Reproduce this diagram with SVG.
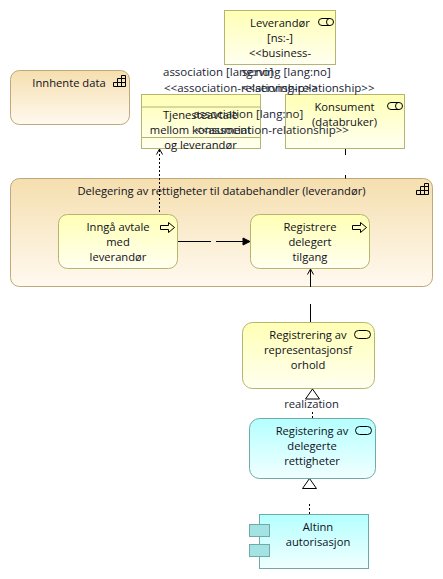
<svg xmlns="http://www.w3.org/2000/svg" width="443" height="579" viewBox="0 0 443 579">
<defs>
<linearGradient id="gy" x1="0" y1="0" x2="0" y2="1"><stop offset="0" stop-color="#ffffb5"/><stop offset="1" stop-color="#fffff0"/></linearGradient>
<linearGradient id="go" x1="0" y1="0" x2="0" y2="1"><stop offset="0" stop-color="#f5dfaf"/><stop offset="1" stop-color="#fff9ef"/></linearGradient>
<linearGradient id="gc" x1="0" y1="0" x2="0" y2="1"><stop offset="0" stop-color="#b5ffff"/><stop offset="1" stop-color="#f0ffff"/></linearGradient>
</defs>
<style>
text{font-family:"Open Sans","Noto Sans","Liberation Sans",sans-serif;font-size:11.200px;fill:#10101a;text-anchor:middle}
text.lbl{fill:#1a2433;text-anchor:start;font-size:11.500px}
text.ctr{fill:#1a2433}
.y{fill:url(#gy);stroke:#b5b56e}
.o{fill:url(#go);stroke:#bfa97a}
.c{fill:url(#gc);stroke:#6fa9a9}
.i{fill:none;stroke:#000}
.conn{fill:none;stroke:#000}
.dot{stroke-dasharray:2 2}
.tri{fill:#fff;stroke:#000}
.comp{fill:#a3e3e3;stroke:#6fa9a9}
.div{fill:none;stroke:#b5b56e}
</style>
<g id="innhente-data">
<rect class="o" x="10.500" y="70.500" width="119" height="54" rx="9"/>
<text x="69" y="87">Innhente data</text>
<path class="i" d="M113.500 86.500V82.500H117.500V78.500H121.500V75.500H125.500V86.500ZM117.500 82.500H125.500M121.500 78.500H125.500M117.500 82.500V86.500M121.500 78.500V86.500"/>
</g>
<g id="delegering">
<rect class="o" x="10.500" y="178.500" width="422" height="108" rx="9"/>
<text x="221.500" y="195">Delegering av rettigheter til databehandler (leverandør)</text>
<path class="i" d="M416.500 194.500V190.500H420.500V186.500H424.500V183.500H428.500V194.500ZM420.500 190.500H428.500M424.500 186.500H428.500M420.500 190.500V194.500M424.500 186.500V194.500"/>
</g>
<g id="connectors">
<path class="conn dot" d="M159.500 150V214"/>
<path class="conn" d="M156.500 154.500L159.500 149L162.500 154.500"/>
<path class="conn" d="M345.500 148.500V155M345.500 175V178.500"/>
<path class="conn" d="M177 241.500H211M216 241.500H244"/>
<path d="M250 241.500L243 238V245Z" fill="#000" stroke="#000"/>
<path class="conn" d="M310.500 269V287M310.500 304V322M307.500 274.500L310.500 269L313.500 274.500"/>
<path class="tri" d="M312.500 389L305.500 399H319.500Z"/>
<path class="conn dot" d="M312.500 412V418"/>
<path class="tri" d="M309.500 478.500L302.500 488.500H316.500Z"/>
<path class="conn dot" d="M309.500 504V514"/>
</g>
<g id="leverandor">
<rect class="y" x="224.500" y="10.500" width="111" height="54"/>
<text x="280" y="27">Leverandør</text><text x="280" y="42">[ns:-]</text><text x="280" y="57">&lt;&lt;business-</text>
<rect class="i" x="318.500" y="18.500" width="15" height="7" rx="3.500"/><path class="i" d="M329.500 18.500a3 3.500 0 0 0 0 7"/>
</g>
<g id="tjenesteavtale">
<rect class="y" x="141.500" y="94.500" width="119" height="54"/>
<path class="div" d="M141.500 107H260.500M141.500 137.500H260.500"/>
<text x="200.500" y="119">Tjenesteavtale</text><text x="200.500" y="134">mellom konsument</text><text x="200.500" y="149">og leverandør</text>
</g>
<g id="konsument">
<rect class="y" x="285.500" y="94.500" width="119" height="54"/>
<text x="344.500" y="111">Konsument</text><text x="344.500" y="126">(databruker)</text>
<rect class="i" x="387.500" y="102.500" width="15" height="7" rx="3.500"/><path class="i" d="M398.500 102.500a3 3.500 0 0 0 0 7"/>
</g>
<g id="inngaa-avtale">
<rect class="y" x="58.500" y="214.500" width="119" height="54" rx="9"/>
<text x="118" y="231">Inngå avtale</text><text x="118" y="246">med</text><text x="118" y="261">leverandør</text>
<path class="i" d="M160.500 225.500H168.500V222.500L174.500 227.500L168.500 232.500V229.500H160.500Z"/>
</g>
<g id="registrere">
<rect class="y" x="250.500" y="214.500" width="119" height="54" rx="9"/>
<text x="310" y="231">Registrere</text><text x="310" y="246">delegert</text><text x="310" y="261">tilgang</text>
<path class="i" d="M352.500 225.500H360.500V222.500L366.500 227.500L360.500 232.500V229.500H352.500Z"/>
</g>
<g id="registrering">
<rect class="y" x="242.500" y="322.500" width="132" height="66" rx="10"/>
<text x="308" y="339">Registrering av</text><text x="308" y="354">representasjonsf</text><text x="308" y="369">orhold</text>
<rect class="i" x="354.500" y="330.500" width="16" height="8" rx="4"/>
</g>
<g id="registering">
<rect class="c" x="249.500" y="418.500" width="126" height="60" rx="10"/>
<text x="312" y="435">Registering av</text><text x="312" y="450">delegerte</text><text x="312" y="465">rettigheter</text>
<rect class="i" x="355.500" y="426.500" width="16" height="8" rx="4"/>
</g>
<g id="altinn">
<rect class="c" x="259.500" y="514.500" width="109" height="54"/>
<rect class="comp" x="249.500" y="524.500" width="20" height="12"/>
<rect class="comp" x="249.500" y="544.500" width="20" height="12"/>
<text x="318" y="531">Altinn</text><text x="318" y="546">autorisasjon</text>
</g>
<g id="labels">
<text class="lbl" x="163" y="76">association [lang:no]</text>
<text class="lbl" x="164" y="92">&lt;&lt;association-relationship&gt;&gt;</text>
<text class="lbl" x="242" y="76">serving [lang:no]</text>
<text class="lbl" x="242" y="92">&lt;&lt;serving-relationship&gt;&gt;</text>
<text class="lbl" x="193" y="118">association [lang:no]</text>
<text class="lbl" x="195" y="134">&lt;&lt;association-relationship&gt;&gt;</text>
<text class="ctr" x="311.500" y="408">realization</text>
</g>
</svg>
